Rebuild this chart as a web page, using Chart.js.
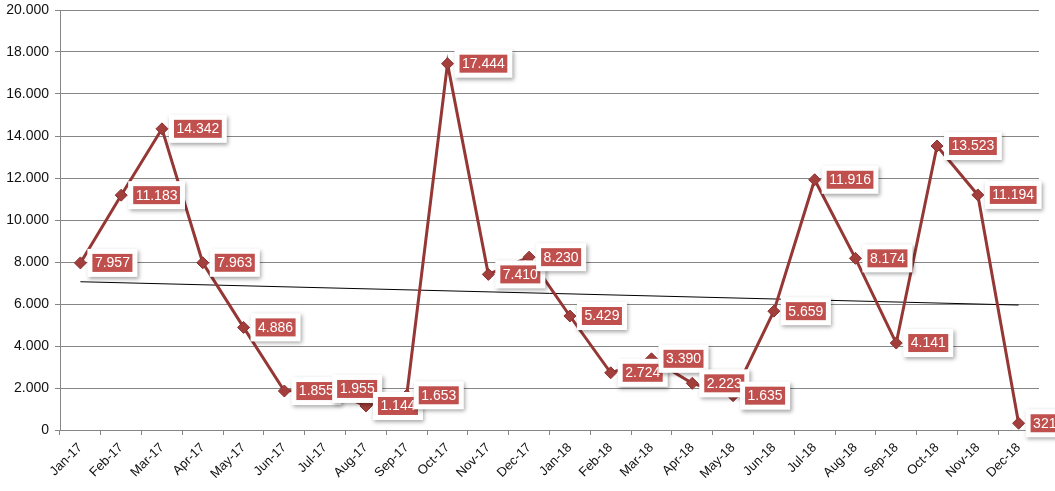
<!DOCTYPE html>
<html>
<head>
<meta charset="utf-8">
<script src="https://cdn.jsdelivr.net/npm/chart.js"></script>
<style>
  html, body { margin: 0; padding: 0; background: #fff; }
  #wrap { width: 1055px; height: 491px; }
</style>
</head>
<body>
<div id="wrap"><canvas id="lineChart"></canvas></div>
<script>
const months = ["Jan-17","Feb-17","Mar-17","Apr-17","May-17","Jun-17","Jul-17","Aug-17","Sep-17","Oct-17","Nov-17","Dec-17",
  "Jan-18","Feb-18","Mar-18","Apr-18","May-18","Jun-18","Jul-18","Aug-18","Sep-18","Oct-18","Nov-18","Dec-18"];
const values = [7957, 11183, 14342, 7963, 4886, 1855, 1955, 1144, 1653, 17444, 7410, 8230,
  5429, 2724, 3390, 2223, 1635, 5659, 11916, 8174, 4141, 13523, 11194, 321];
// trend line ends
const trendStart = 7060;
const trendEnd = 5950;

const fmt = v => String(v).replace(/\B(?=(\d{3})+(?!\d))/g, ".");

// ================= LABELS =================
const boxLabels = {
  id: "boxLabels",
  afterDatasetsDraw(chart) {
    const ctx = chart.ctx;
    const meta = chart.getDatasetMeta(0);
    ctx.save();
    ctx.font = "14px 'Liberation Sans', Arial, sans-serif";
    ctx.textBaseline = "middle";
    meta.data.forEach((pt, i) => {
      const txt = fmt(values[i]);
      const tw = ctx.measureText(txt).width;
      const rw = tw + 5, rh = 18;
      const rx = pt.x + 12, ry = pt.y - rh / 2;
      // white box with shadow
      ctx.save();
      ctx.shadowColor = "rgba(0,0,0,0.35)";
      ctx.shadowBlur = 4;
      ctx.shadowOffsetX = 1.5;
      ctx.shadowOffsetY = 2;
      ctx.fillStyle = "#fff";
      ctx.fillRect(rx - 5, ry - 5, rw + 10, rh + 10);
      ctx.restore();
      ctx.fillStyle = "#C0504D";
      ctx.fillRect(rx, ry, rw, rh);
      ctx.fillStyle = "#fff";
      ctx.fillText(txt, rx + 2.5, pt.y + 0.5);
    });
    ctx.restore();
  }
};

const trendData = months.map((m, i) => i === 0 ? trendStart : (i === months.length - 1 ? trendEnd : null));

new Chart(document.getElementById("lineChart").getContext("2d"), {
  type: "line",
  data: {
    labels: months,
    datasets: [
      {
        data: values,
        borderColor: "#953735",
        borderWidth: 3,
        pointStyle: "rectRot",
        pointRadius: 6,
        pointBackgroundColor: "#A23F3C",
        pointBorderColor: "#8A3230",
        pointBorderWidth: 1,
        tension: 0,
        order: 1
      },
      {
        data: trendData,
        borderColor: "#000",
        borderWidth: 1,
        pointRadius: 0,
        spanGaps: true,
        order: 2
      }
    ]
  },
  options: {
    responsive: true,
    maintainAspectRatio: false,
    animation: false,
    layout: { padding: { top: 10, right: 16, left: 0, bottom: 0 } },
    plugins: { legend: { display: false }, tooltip: { enabled: false } },
    scales: {
      x: {
        offset: true,
        grid: { offset: true, drawOnChartArea: false, drawTicks: true, tickLength: 5, color: "#868686" },
        border: { color: "#868686" },
        ticks: {
          minRotation: 45, maxRotation: 45, padding: 5,
          color: "#111",
          font: { family: "'Liberation Sans', Arial, sans-serif", size: 13 }
        },
        afterFit: s => { s.height = 61; s.paddingLeft = 0; s.paddingRight = 0; }
      },
      y: {
        min: 0, max: 20000,
        ticks: {
          stepSize: 2000,
          color: "#111",
          padding: 6,
          font: { family: "'Liberation Sans', Arial, sans-serif", size: 14 },
          callback: v => fmt(v)
        },
        grid: { color: "#868686", lineWidth: 1, tickLength: 5 },
        border: { color: "#868686" },
        afterFit: s => { s.width = 60; s.paddingTop = 0; s.paddingBottom = 0; }
      }
    }
  },
  plugins: [boxLabels]
});
</script>
</body>
</html>
